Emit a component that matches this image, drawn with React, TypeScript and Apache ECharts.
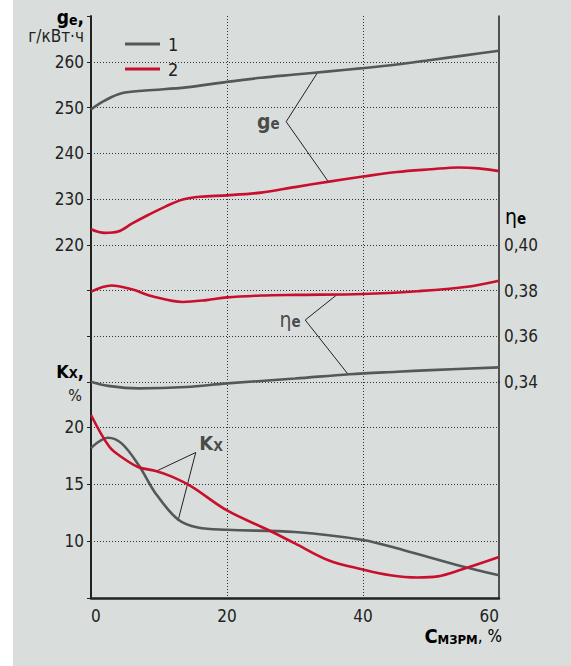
import React, { useEffect, useRef } from 'react';
import * as echarts from 'echarts';

// Specific fuel consumption g_e, g/kWh (left axis, upper block)
const ge1: number[][] = [
  [0, 249.6], [2, 251.5], [4.5, 253.1], [8, 253.7], [14, 254.4], [20, 255.6], [25, 256.5],
  [30, 257.2], [35, 257.9], [40, 258.6], [45, 259.4], [50, 260.4], [55, 261.4], [60, 262.4],
];
const ge2: number[][] = [
  [0, 223.4], [2, 222.6], [4, 222.9], [6, 224.6], [8.4, 226.5], [11, 228.4], [13.5, 229.9],
  [16, 230.5], [20, 230.8], [25, 231.4], [30, 232.6], [35, 233.8], [40, 234.9], [45, 235.9],
  [50, 236.5], [54, 236.9], [57, 236.7], [60, 236.1],
];
// Effective efficiency eta_e (right axis)
const eta1: number[][] = [
  [0, 0.3401], [2.5, 0.3383], [7, 0.3372], [14, 0.3378], [20, 0.3394], [30, 0.3415],
  [38, 0.3434], [45, 0.3445], [50, 0.3452], [60, 0.3464],
];
const eta2: number[][] = [
  [0, 0.3795], [3, 0.3822], [6, 0.3805], [9, 0.3775], [13.5, 0.375], [17, 0.3758],
  [20, 0.377], [25, 0.3778], [30, 0.3781], [40, 0.3785], [48, 0.3797], [55, 0.3815], [60, 0.3843],
];
// Exhaust smoke K_x, % (lower block)
const kx1: number[][] = [
  [0, 18.2], [2.5, 19.1], [4.5, 18.6], [7, 16.7], [9.5, 14.2], [12.8, 11.9], [15.7, 11.2],
  [20, 11.0], [30, 10.8], [40, 10.1], [46, 9.2], [54.5, 7.8], [60, 7.0],
];
const kx2: number[][] = [
  [0, 21.1], [2.7, 18.3], [4.5, 17.4], [7, 16.5], [9.4, 16.2], [11.8, 15.7], [14.8, 14.8],
  [20, 12.7], [26, 11.0], [30, 9.8], [35, 8.3], [40, 7.5], [44, 7.0], [48, 6.8], [51, 6.9],
  [54.5, 7.5], [60, 8.6],
];

// Leader lines: curve 1 point, vertex (label anchor), curve 2 point
const geLeader: number[][] = [[33.3, 257.6], [28.7, 246.9], [34.9, 233.8]];
const etaLeader: number[][] = [[36.1, 0.378], [31.5, 0.3671], [37.8, 0.3434]];
const kxLeader: number[][] = [[9.4, 16.1], [15.4, 17.8], [12.8, 11.8]];

const legendNames = ['1', '2'];
const geTickLabels = [220, 230, 240, 250, 260];
const etaTickLabels = [0.34, 0.36, 0.38, 0.4];
const kxTickLabels = [10, 15, 20];

const FONT = "'Liberation Sans Narrow', 'DejaVu Sans Condensed', 'Arial Narrow', sans-serif";
const GREY = '#555858';
const RED = '#c8102e';
const INK = '#222';
const gridLine = { color: '#333', width: 1, type: [1, 2] as number[] };

function curve(name: string, data: number[][], color: string, xi: number, yi: number) {
  return {
    type: 'line', name, data, xAxisIndex: xi, yAxisIndex: yi, smooth: 0.35, clip: false,
    symbol: 'none', lineStyle: { color, width: 2.6 }, itemStyle: { color }, z: 3,
  };
}

function leader(id: string, data: number[][], xi: number, yi: number) {
  return {
    type: 'line', name: id, data, xAxisIndex: xi, yAxisIndex: yi, symbol: 'none', clip: false,
    lineStyle: { color: INK, width: 1 }, silent: true, z: 2,
  };
}

function tag(id: string, point: number[], xi: number, yi: number, label: any) {
  return {
    type: 'scatter', name: id, xAxisIndex: xi, yAxisIndex: yi, symbolSize: 1,
    itemStyle: { color: 'transparent' }, silent: true,
    data: [{ value: point, label: { show: true, ...label } }],
  };
}

export default function App() {
  const ref = useRef<HTMLDivElement>(null);

  useEffect(() => {
    document.body.style.margin = '0';
    if (!ref.current) return;
    const chart = echarts.init(ref.current, undefined, { renderer: 'svg' });

    const sub = (size: number, pad: number) => ({
      fontFamily: FONT, fontWeight: 'bold', fontSize: size, color: INK, padding: [pad, 0, 0, 0],
    });

    chart.setOption({
      animation: false,
      textStyle: { fontFamily: FONT },
      legend: {
        data: legendNames, orient: 'vertical', left: 120, top: 29, icon: 'rect',
        itemWidth: 35, itemHeight: 3, itemGap: 5,
        textStyle: { fontFamily: FONT, fontSize: 18, color: INK, lineHeight: 20, padding: [0, 0, 0, 3] },
      },
      grid: [
        { left: 91, right: 72, top: 16, height: 366 },
        { left: 91, right: 72, top: 382, height: 216 },
      ],
      xAxis: [
        {
          type: 'value', gridIndex: 0, min: 0, max: 60, interval: 20,
          axisLine: { show: false }, axisTick: { show: false }, axisLabel: { show: false },
          splitLine: { show: true, lineStyle: gridLine, showMinLine: false, showMaxLine: false },
        },
        {
          type: 'value', gridIndex: 1, min: 0, max: 60, interval: 20,
          axisLine: { show: true, lineStyle: { color: INK, width: 2.5 } },
          axisTick: { show: false },
          axisLabel: {
            fontFamily: FONT, fontSize: 17, color: INK, margin: 9,
            alignMinLabel: 'left', alignMaxLabel: 'right',
            formatter: (v: number) => String(v),
          },
          splitLine: { show: true, lineStyle: gridLine, showMinLine: false, showMaxLine: false },
        },
      ],
      yAxis: [
        {
          type: 'value', gridIndex: 0, position: 'left', min: 190, max: 270, interval: 10,
          axisLine: { show: true, lineStyle: { color: INK, width: 2 } },
          axisTick: { show: true, length: 4, lineStyle: { color: INK, width: 1 } },
          axisLabel: {
            fontFamily: FONT, fontSize: 17, color: INK, margin: 7,
            formatter: (v: number) => (geTickLabels.includes(Math.round(v)) ? String(Math.round(v)) : ''),
          },
          splitLine: { show: true, lineStyle: gridLine, showMinLine: true, showMaxLine: false },
        },
        {
          type: 'value', gridIndex: 0, position: 'right', min: 0.34, max: 0.5, interval: 0.02,
          axisLine: { show: true, lineStyle: { color: INK, width: 1.5 } },
          axisTick: { show: false },
          axisLabel: {
            fontFamily: FONT, fontSize: 17, color: INK, margin: 5,
            formatter: (v: number) =>
              etaTickLabels.some((t) => Math.abs(t - v) < 1e-6) ? v.toFixed(2).replace('.', ',') : '',
          },
          splitLine: { show: false },
        },
        {
          type: 'value', gridIndex: 1, position: 'left', min: 5, max: 24, interval: 5,
          axisLine: { show: true, lineStyle: { color: INK, width: 2 } },
          axisTick: { show: true, length: 4, lineStyle: { color: INK, width: 1 } },
          axisLabel: {
            fontFamily: FONT, fontSize: 17, color: INK, margin: 7,
            formatter: (v: number) => (kxTickLabels.includes(v) ? String(v) : ''),
          },
          splitLine: { show: true, lineStyle: gridLine, showMinLine: false, showMaxLine: false },
        },
        {
          type: 'value', gridIndex: 1, position: 'right', min: 5, max: 24,
          axisLine: { show: true, lineStyle: { color: INK, width: 1.5 } },
          axisTick: { show: false }, axisLabel: { show: false }, splitLine: { show: false },
        },
      ],
      series: [
        curve('1', ge1, GREY, 0, 0),
        curve('2', ge2, RED, 0, 0),
        curve('1', eta1, GREY, 0, 1),
        curve('2', eta2, RED, 0, 1),
        curve('1', kx1, GREY, 1, 2),
        curve('2', kx2, RED, 1, 2),
        leader('ge-leader', geLeader, 0, 0),
        leader('eta-leader', etaLeader, 0, 1),
        leader('kx-leader', kxLeader, 1, 2),
        tag('ge-tag', geLeader[1], 0, 0, {
          position: 'left', distance: 6, formatter: '{b|g}{s|e}',
          rich: { b: sub(21, 0), s: sub(15, 5) },
        }),
        tag('eta-tag', etaLeader[1], 0, 1, {
          position: 'left', distance: 4, formatter: '{n|η}{s|e}',
          rich: { n: { fontFamily: FONT, fontSize: 21, color: INK }, s: sub(15, 3) },
        }),
        tag('kx-tag', kxLeader[1], 1, 2, {
          position: 'right', distance: 3, offset: [0, -9], formatter: '{b|K}{s|X}',
          rich: { b: sub(20, 0), s: sub(14, 6) },
        }),
      ],
      graphic: [
        {
          type: 'text', x: 84, y: 17,
          style: {
            text: '{b|g}{s|e}{b|,}', align: 'right', verticalAlign: 'middle',
            rich: { b: sub(19, 0), s: sub(14, 5) },
          },
        },
        {
          type: 'text', x: 84, y: 36,
          style: {
            text: 'г/кВт·ч', align: 'right', verticalAlign: 'middle',
            font: `17px ${FONT}`, fill: INK,
          },
        },
        {
          type: 'text', x: 84, y: 371,
          style: {
            text: '{b|K}{s|X}{b|,}', align: 'right', verticalAlign: 'middle',
            rich: { b: sub(18, 0), s: sub(13, 4) },
          },
        },
        {
          type: 'text', x: 75, y: 395,
          style: { text: '%', align: 'center', verticalAlign: 'middle', font: `16px ${FONT}`, fill: INK },
        },
        {
          type: 'text', x: 505, y: 217,
          style: {
            text: '{n|η}{s|e}', align: 'left', verticalAlign: 'middle',
            rich: { n: { fontFamily: FONT, fontSize: 21, color: INK }, s: sub(15, 3) },
          },
        },
        {
          type: 'text', x: 502, y: 636,
          style: {
            text: '{b|C}{s|МЗРМ}{n|, %}', align: 'right', verticalAlign: 'middle',
            rich: {
              b: sub(20, 0), s: sub(13, 6),
              n: { fontFamily: FONT, fontSize: 17, color: INK },
            },
          },
        },
      ],
    });

    return () => chart.dispose();
  }, []);

  return (
    <div style={{ position: 'relative', width: 571, height: 666, background: '#fff' }}>
      <div style={{ position: 'absolute', left: 13, top: 0, width: 558, height: 666, background: '#d9dedc' }} />
      <div ref={ref} style={{ position: 'absolute', left: 0, top: 0, width: 571, height: 666 }} />
    </div>
  );
}
